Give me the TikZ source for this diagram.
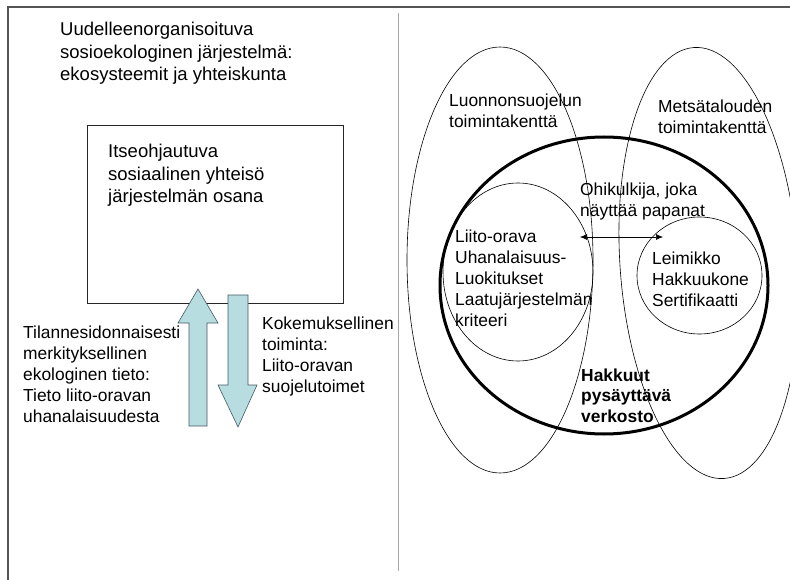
\documentclass[tikz,border=0pt]{standalone}
\usepackage{fontspec}
\setmainfont{Liberation Sans}
\usetikzlibrary{shapes.geometric,arrows.meta}
\definecolor{arrowfill}{RGB}{183,221,224}
\definecolor{arrowline}{RGB}{70,90,100}
\definecolor{framecol}{RGB}{85,85,85}
\tikzset{
  bigtxt/.style={inner sep=0pt, anchor=base west, align=left, font=\fontsize{18.5}{22.5}\selectfont},
  txt/.style={inner sep=0pt, anchor=base west, align=left, font=\fontsize{17.4}{21}\selectfont},
  field/.style={ellipse, draw=black, line width=0.6pt, inner sep=0pt},
  blockarrow/.style={fill=arrowfill, draw=arrowline, line width=0.6pt, line join=miter},
}
\begin{document}
\begin{tikzpicture}[x=1pt,y=-1pt]
\useasboundingbox (0,0) rectangle (790,580);
% frame
\draw[framecol, line width=1.4pt] (8,580) -- (8,7) -- (790,7);
\draw[gray!70, line width=0.8pt] (398,13) -- (398,571);
% left panel (node anchors are at the baseline of the last line)
\node[bigtxt] (title) at (60,81) {Uudelleenorganisoituva\\sosioekologinen järjestelmä:\\ekosysteemit ja yhteiskunta};
\node[draw=black!85, line width=0.8pt, minimum width=256pt, minimum height=178pt, inner sep=0pt] (box) at (215,214) {};
\node[bigtxt] (boxtxt) at (108,203) {Itseohjautuva\\sosiaalinen yhteisö\\järjestelmän osana};
\draw[blockarrow] (198,289) -- (218,323) -- (207,323) -- (207,426) -- (189,426) -- (189,323) -- (178,323) -- cycle;
\draw[blockarrow] (238,427) -- (257,385) -- (248,385) -- (248,295) -- (228,295) -- (228,385) -- (218,385) -- cycle;
\node[txt] (know) at (23,422) {Tilannesidonnaisesti\\merkityksellinen\\ekologinen tieto:\\Tieto liito-oravan\\uhanalaisuudesta};
\node[txt, font=\fontsize{17.4}{20.7}\selectfont] (act) at (262,392) {Kokemuksellinen\\toiminta:\\Liito-oravan\\suojelutoimet};
% right panel
\node[field, minimum width=186pt, minimum height=426pt] (nat) at (500,260) {};
\node[field, minimum width=178pt, minimum height=432pt, rotate=4] (forest) at (709,263) {};
\node[ellipse, draw=black, line width=3pt, inner sep=0pt, minimum width=328pt, minimum height=297pt] (net) at (604,285.5) {};
\node[field, minimum width=150pt, minimum height=178pt] (squirrel) at (518,272) {};
\node[field, minimum width=125pt, minimum height=117pt] (harvest) at (699.5,275.5) {};
\node[txt] (natlbl) at (449,128) {Luonnonsuojelun\\toimintakenttä};
\node[txt] (forlbl) at (658,134) {Metsätalouden\\toimintakenttä};
\node[txt] (walker) at (580,217) {Ohikulkija, joka\\näyttää papanat};
\node[txt, font=\fontsize{17.4}{20.8}\selectfont] (sqtxt) at (455,326) {Liito-orava\\Uhanalaisuus-\\Luokitukset\\Laatujärjestelmän\\kriteeri};
\node[txt, font=\fontsize{17.4}{20.8}\selectfont] (hvtxt) at (652,306) {Leimikko\\Hakkuukone\\Sertifikaatti};
\node[txt, font=\fontsize{17.4}{20.5}\selectfont\bfseries] (nettxt) at (581,422) {Hakkuut\\pysäyttävä\\verkosto};
\coordinate (la) at (580,237);
\coordinate (ra) at (663,237);
\draw[{Latex[length=7pt,width=6pt]}-{Latex[length=7pt,width=6pt]}, line width=0.6pt] (la) -- (ra);
\end{tikzpicture}
\end{document}
